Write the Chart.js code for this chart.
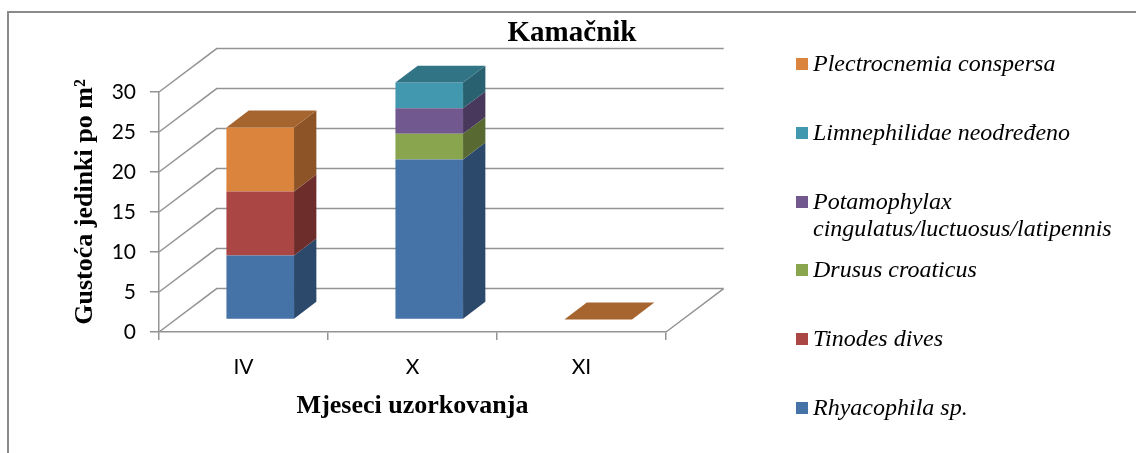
<!DOCTYPE html>
<html><head><meta charset="utf-8">
<script src="https://cdn.jsdelivr.net/npm/chart.js@4"></script>
<style>
html,body{margin:0;padding:0;background:#fff;}
#wrap{position:relative;width:1136px;height:453px;overflow:hidden;background:#fff;}
#frame{position:absolute;left:7px;top:11px;width:1300px;height:600px;border-left:2px solid #8a8a8a;border-top:2px solid #8a8a8a;}
canvas{position:absolute;left:0;top:0;}
.li{position:absolute;left:796px;font:italic 24px "Liberation Serif";line-height:27px;color:#000;}
.sw{position:absolute;left:0;top:8px;width:12px;height:12px;}
.tx{display:block;margin-left:17px;max-width:318px;}
</style></head><body>
<div id="wrap"><div id="frame"></div><canvas id="c" width="1136" height="453"></canvas><div id="legend"></div></div>
<script>
// ---- data ----
const categories = ['IV', 'X', 'XI'];
const seriesNames = ['Rhyacophila sp.', 'Tinodes dives', 'Drusus croaticus',
  'Potamophylax cingulatus/luctuosus/latipennis', 'Limnephilidae neodređeno', 'Plectrocnemia conspersa'];
const rhyacophila   = [8, 20, 0];
const tinodesDives  = [8, 0, 0];
const drususCroaticus = [0, 3.2, 0];
const potamophylax  = [0, 3.2, 0];
const limnephilidae = [0, 3.2, 0];
const plectrocnemia = [8, 0, 0];
const yTickValues = [0, 5, 10, 15, 20, 25, 30];
const chartTitle = 'Kamačnik';
const xTitle = 'Mjeseci uzorkovanja';
const yTitle = 'Gustoća jedinki po m²';

// ---- style ----
const seriesColors = ['#4572A7', '#AA4643', '#89A54E', '#71588F', '#4198AF', '#DB843D'];
const GRID = '#939393';
const WALL_DX = 57.7, WALL_DY = -43.4;   // projection of full depth
const BAR_FRONT = 0.29, BAR_DEPTH = 0.387;

function shade(hex, f) {
  const n = parseInt(hex.slice(1), 16);
  const r = (n >> 16) & 255, g = (n >> 8) & 255, b = n & 255;
  return `rgb(${Math.round(r*f)},${Math.round(g*f)},${Math.round(b*f)})`;
}

const seriesValues = [rhyacophila, tinodesDives, drususCroaticus, potamophylax, limnephilidae, plectrocnemia];

const threeD = {
  id: 'threeD',
  beforeDatasetsDraw(chart) {
    const {ctx, chartArea: a, scales: {y}} = chart;
    ctx.save();
    ctx.strokeStyle = GRID; ctx.lineWidth = 1.5;
    ctx.beginPath();
    y.ticks.forEach(t => {
      const py = y.getPixelForValue(t.value);
      ctx.moveTo(a.left, py);
      ctx.lineTo(a.left + WALL_DX, py + WALL_DY);
      ctx.lineTo(a.right + WALL_DX, py + WALL_DY);
    });
    const p0 = y.getPixelForValue(0);
    ctx.moveTo(a.right, p0);
    ctx.lineTo(a.right + WALL_DX, p0 + WALL_DY);
    ctx.stroke();
    ctx.restore();
    ctx.save();
    ctx.translate(WALL_DX * BAR_FRONT, WALL_DY * BAR_FRONT);
  },
  afterDatasetsDraw(chart) {
    const ctx = chart.ctx;
    const bx = WALL_DX * BAR_DEPTH, by = WALL_DY * BAR_DEPTH;
    const ds = chart.data.datasets;
    const n = chart.data.labels.length;
    const topIdx = [];
    for (let i = 0; i < n; i++) {
      let t = ds.length - 1;
      for (let d = 0; d < ds.length; d++) if (ds[d].data[i] !== 0) t = d;
      topIdx.push(t);
    }
    ds.forEach((dset, d) => {
      const meta = chart.getDatasetMeta(d);
      meta.data.forEach((el, i) => {
        const p = el.getProps(['x', 'y', 'base', 'width'], true);
        const l = p.x - p.width / 2, r = p.x + p.width / 2;
        const top = Math.min(p.y, p.base), bot = Math.max(p.y, p.base);
        const col = seriesColors[d];
        if (dset.data[i] !== 0) {
          ctx.fillStyle = shade(col, 0.64);
          ctx.beginPath();
          ctx.moveTo(r, top); ctx.lineTo(r + bx, top + by);
          ctx.lineTo(r + bx, bot + by); ctx.lineTo(r, bot);
          ctx.closePath(); ctx.fill();
        }
        if (topIdx[i] === d) {
          ctx.fillStyle = shade(col, 0.76);
          ctx.beginPath();
          ctx.moveTo(l, top); ctx.lineTo(l + bx, top + by);
          ctx.lineTo(r + bx, top + by); ctx.lineTo(r, top);
          ctx.closePath(); ctx.fill();
        }
      });
    });
    ctx.restore();
  },
  afterDraw(chart) {
    const {ctx} = chart;
    ctx.save();
    ctx.translate(85, 202);
    ctx.rotate(-Math.PI / 2);
    ctx.font = 'bold 26px "Liberation Serif"';
    ctx.fillStyle = '#000';
    ctx.textAlign = 'center';
    ctx.textBaseline = 'middle';
    ctx.fillText(yTitle, 0, 0);
    ctx.restore();
  }
};

const chart = new Chart(document.getElementById('c'), {
  type: 'bar',
  data: {
    labels: categories,
    datasets: seriesValues.map((vals, d) => ({
      label: seriesNames[d],
      data: vals,
      backgroundColor: seriesColors[d],
      borderWidth: 0,
      categoryPercentage: 1,
      barPercentage: 0.4,
      clip: false
    }))
  },
  options: {
    responsive: false,
    animation: false,
    devicePixelRatio: 1,
    layout: {padding: {left: 8, right: 0, top: 0, bottom: 0}},
    plugins: {
      legend: {display: false},
      tooltip: {enabled: false},
      title: {
        display: true, text: chartTitle, color: '#000',
        font: {family: 'Liberation Serif', size: 29, weight: 'bold'},
        padding: {top: 16, bottom: 41.2}
      }
    },
    scales: {
      x: {
        stacked: true, offset: true,
        grid: {offset: true, drawOnChartArea: false, drawTicks: true, tickLength: 8, color: GRID, lineWidth: 1.5},
        border: {display: true, color: GRID, width: 1.5},
        ticks: {color: '#000', font: {family: 'Lato', size: 21}, padding: 15},
        title: {display: true, text: xTitle, color: '#000',
          font: {family: 'Liberation Serif', size: 26, weight: 'bold'}, padding: {top: 0, bottom: 31}},
        afterFit(s) { s.height = 121; }
      },
      y: {
        stacked: true, min: 0, max: 30,
        afterBuildTicks(s) { s.ticks = yTickValues.map(v => ({value: v})); },
        grid: {drawOnChartArea: false, drawTicks: true, tickLength: 9, color: GRID, lineWidth: 1.5},
        border: {display: true, color: GRID, width: 1.5},
        ticks: {color: '#000', font: {family: 'Lato', size: 21}, padding: 14},
        afterFit(s) { s.width = 151; }
      },
      pad: {
        type: 'linear', position: 'right', display: true,
        grid: {display: false}, border: {display: false}, ticks: {display: false},
        afterFit(s) { s.width = 470; }
      }
    }
  },
  plugins: [threeD]
});

// ---- legend (HTML, from datasets, reversed order) ----
const legendEl = document.getElementById('legend');
chart.data.datasets.slice().reverse().forEach((dset, i) => {
  const idx = chart.data.datasets.length - 1 - i;
  const li = document.createElement('div');
  li.className = 'li';
  li.style.top = (63.5 + i * 68.8 - 13.5) + 'px';
  const sw = document.createElement('span');
  sw.className = 'sw';
  sw.style.background = seriesColors[idx];
  const tx = document.createElement('span');
  tx.className = 'tx';
  tx.textContent = dset.label;
  li.appendChild(sw); li.appendChild(tx);
  legendEl.appendChild(li);
});
</script>
</body></html>
